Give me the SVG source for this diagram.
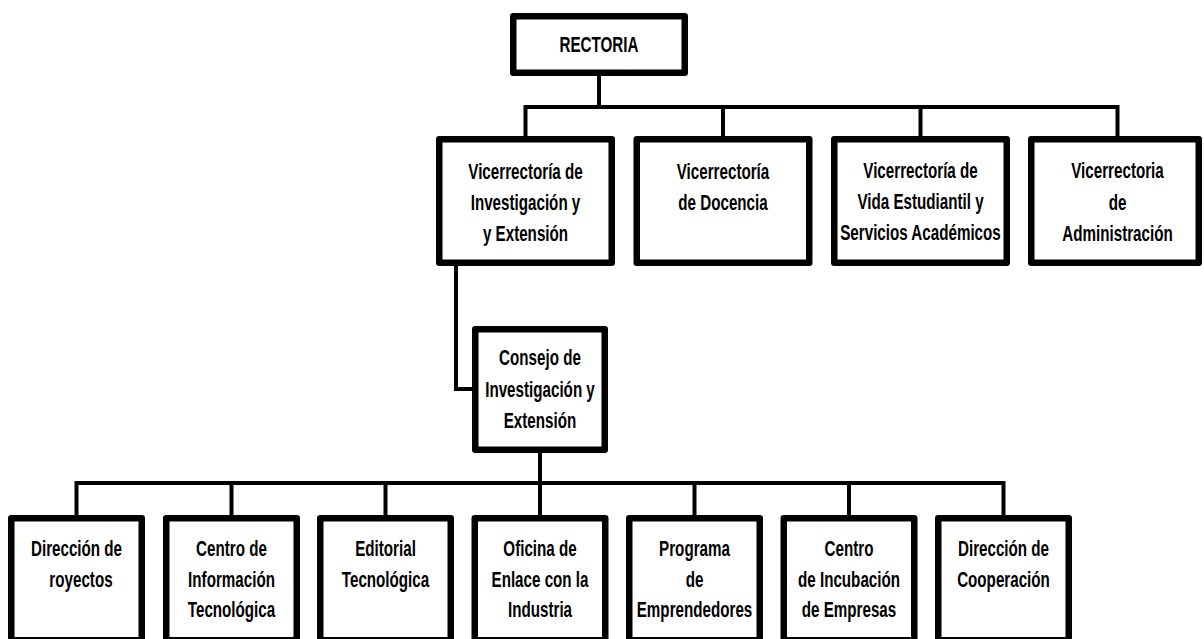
<svg xmlns="http://www.w3.org/2000/svg" width="1204" height="639" viewBox="0 0 1204 639">
<style>
.box{fill:#fff;stroke:#000;stroke-width:6.5;stroke-linejoin:round}
.con{fill:none;stroke:#000;stroke-width:4;stroke-linejoin:miter}
.t{font-family:"Liberation Sans",Arial,sans-serif;font-weight:bold;font-size:22px;text-anchor:middle;fill:#000}
</style>
<rect width="1204" height="639" fill="#fff"/>
<g id="connectors">
<path class="con" d="M599 76 V107"/>
<path class="con" d="M525.5 136 V107 H1117.5 V136"/>
<path class="con" d="M723 107 V136 M920.5 107 V136"/>
<path class="con" d="M456 266 V389 H473"/>
<path class="con" d="M540 453 V483"/>
<path class="con" d="M76.5 515 V483 H1003.5 V515"/>
<path class="con" d="M231.5 483 V515 M385.5 483 V515 M540 483 V515 M694.5 483 V515 M849 483 V515"/>
</g>
<g id="rectoria">
<rect class="box" x="513.25" y="16.25" width="171.5" height="56.5"/>
<text class="t" transform="translate(599,0) scale(0.69,1)"><tspan x="0" y="52">RECTORIA</tspan></text>
</g>
<g id="vice-investigacion">
<rect class="box" x="439.25" y="139.25" width="172.5" height="123.5"/>
<text class="t" transform="translate(525.5,0) scale(0.69,1)"><tspan x="0" y="179">Vicerrectoría de</tspan><tspan x="0" y="210">Investigación y</tspan><tspan x="0" y="241">y Extensión</tspan></text>
</g>
<g id="vice-docencia">
<rect class="box" x="636.75" y="139.25" width="172.5" height="123.5"/>
<text class="t" transform="translate(723,0) scale(0.69,1)"><tspan x="0" y="179">Vicerrectoría</tspan><tspan x="0" y="210">de Docencia</tspan></text>
</g>
<g id="vice-vida">
<rect class="box" x="834.25" y="139.25" width="172.5" height="123.5"/>
<text class="t" transform="translate(920.5,0) scale(0.69,1)"><tspan x="0" y="178">Vicerrectoría de</tspan><tspan x="0" y="209">Vida Estudiantil y</tspan><tspan x="0" y="240">Servicios Académicos</tspan></text>
</g>
<g id="vice-administracion">
<rect class="box" x="1031.25" y="139.25" width="167.5" height="123.5"/>
<text class="t" transform="translate(1117.5,0) scale(0.69,1)"><tspan x="0" y="178">Vicerrectoria</tspan><tspan x="0" y="210">de</tspan><tspan x="0" y="241">Administración</tspan></text>
</g>
<g id="consejo">
<rect class="box" x="475.25" y="329.25" width="129.5" height="120.5"/>
<text class="t" transform="translate(540,0) scale(0.69,1)"><tspan x="0" y="365">Consejo de</tspan><tspan x="0" y="397">Investigación y</tspan><tspan x="0" y="428">Extensión</tspan></text>
</g>
<g id="direccion-proyectos">
<rect class="box" x="11.25" y="518.25" width="130.5" height="122"/>
<text class="t" transform="translate(76.5,0) scale(0.69,1)"><tspan x="0" y="556">Dirección de</tspan><tspan x="6.5" y="587">royectos</tspan></text>
</g>
<g id="centro-informacion">
<rect class="box" x="166.25" y="518.25" width="130.5" height="122"/>
<text class="t" transform="translate(231.5,0) scale(0.69,1)"><tspan x="0" y="556">Centro de</tspan><tspan x="0" y="587">Información</tspan><tspan x="0" y="617">Tecnológica</tspan></text>
</g>
<g id="editorial">
<rect class="box" x="320.25" y="518.25" width="130.5" height="122"/>
<text class="t" transform="translate(385.5,0) scale(0.69,1)"><tspan x="0" y="556">Editorial</tspan><tspan x="0" y="587">Tecnológica</tspan></text>
</g>
<g id="oficina-enlace">
<rect class="box" x="474.75" y="518.25" width="130.5" height="122"/>
<text class="t" transform="translate(540,0) scale(0.69,1)"><tspan x="0" y="556">Oficina de</tspan><tspan x="0" y="587">Enlace con la</tspan><tspan x="0" y="617">Industria</tspan></text>
</g>
<g id="programa-emprendedores">
<rect class="box" x="629.25" y="518.25" width="130.5" height="122"/>
<text class="t" transform="translate(694.5,0) scale(0.69,1)"><tspan x="0" y="556">Programa</tspan><tspan x="0" y="587">de</tspan><tspan x="0" y="617">Emprendedores</tspan></text>
</g>
<g id="centro-incubacion">
<rect class="box" x="783.75" y="518.25" width="130.5" height="122"/>
<text class="t" transform="translate(849,0) scale(0.69,1)"><tspan x="0" y="556">Centro</tspan><tspan x="0" y="587">de Incubación</tspan><tspan x="0" y="617">de Empresas</tspan></text>
</g>
<g id="direccion-cooperacion">
<rect class="box" x="938.25" y="518.25" width="130.5" height="122"/>
<text class="t" transform="translate(1003.5,0) scale(0.69,1)"><tspan x="0" y="556">Dirección de</tspan><tspan x="0" y="587">Cooperación</tspan></text>
</g>
</svg>
